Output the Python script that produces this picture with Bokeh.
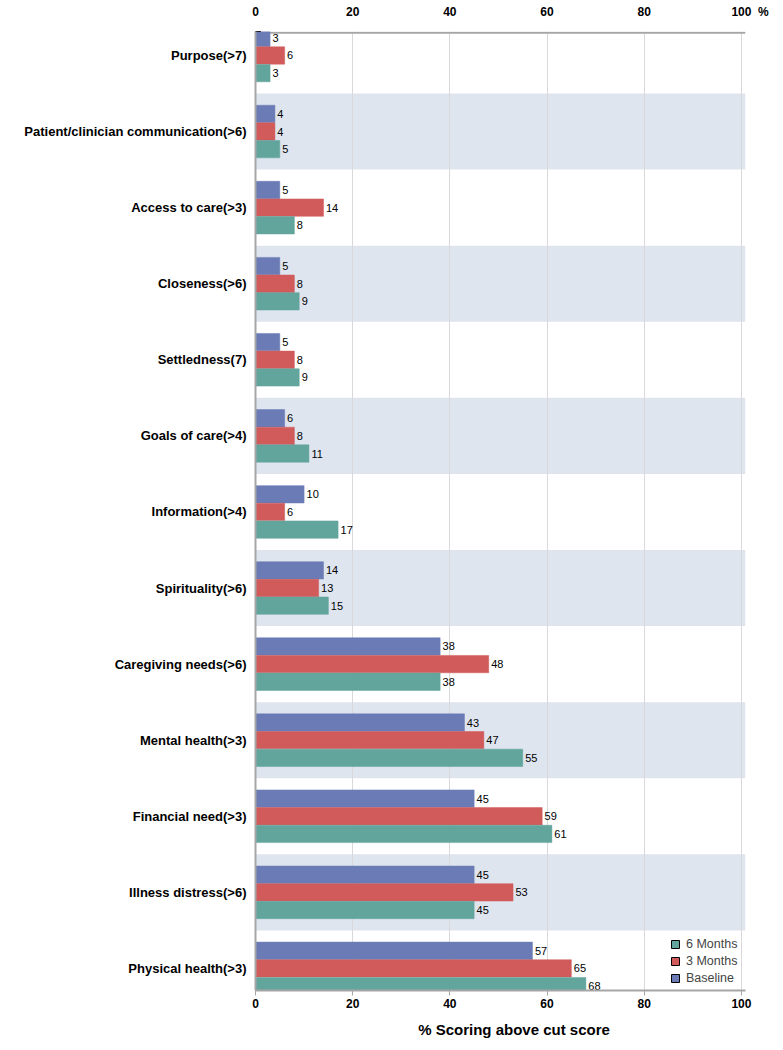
from bokeh.plotting import figure
from bokeh.models import Range1d, LinearAxis, FixedTicker, ColumnDataSource, Legend, LegendItem
from bokeh.core.properties import value
from bokeh.embed import file_html
from bokeh.resources import INLINE

categories = [
    "Purpose(>7)",
    "Patient/clinician communication(>6)",
    "Access to care(>3)",
    "Closeness(>6)",
    "Settledness(7)",
    "Goals of care(>4)",
    "Information(>4)",
    "Spirituality(>6)",
    "Caregiving needs(>6)",
    "Mental health(>3)",
    "Financial need(>3)",
    "Illness distress(>6)",
    "Physical health(>3)",
]
baseline = [3, 4, 5, 5, 5, 6, 10, 14, 38, 43, 45, 45, 57]
months3 = [6, 4, 14, 8, 8, 8, 6, 13, 48, 47, 59, 53, 65]
months6 = [3, 5, 8, 9, 9, 11, 17, 15, 38, 55, 61, 45, 68]
x_ticks = [0, 20, 40, 60, 80, 100]
pct_tick = 104.5

C_BASE = "#6b7bb6"
C_3M = "#d15b5b"
C_6M = "#62a59d"
BAND = "#dfe5ef"
AXC = "#a6a6a6"
FONT = "Liberation Sans"
XMAX = 100.8

n = len(categories)
pos = list(range(n))

p = figure(width=775, height=1042,
           x_range=Range1d(0, 106.4), y_range=Range1d(n - 1 + 0.29, -0.315),
           output_backend="svg", toolbar_location=None,
           min_border_left=255, min_border_right=3, min_border_top=31, min_border_bottom=52)
p.outline_line_color = None
p.background_fill_color = "white"

# bands
band_y = [i for i in pos if i % 2 == 1]
p.hbar(y=band_y, left=0, right=XMAX, height=1.0, fill_color=BAND, line_color=None, level="image")

# top axis line
p.segment(x0=[0], x1=[XMAX], y0=[-0.30], y1=[-0.30], line_color=AXC, line_width=2)

off = 0.232
h = 0.228
series = [(baseline, -off, C_BASE), (months3, 0.0, C_3M), (months6, off, C_6M)]
for vals, o, col in series:
    ys = [i + o for i in pos]
    src = ColumnDataSource(dict(y=ys, v=vals, t=[str(v) for v in vals], tx=[v + 0.5 for v in vals]))
    p.hbar(y="y", right="v", left=0, height=h, source=src, fill_color=col, line_color=col, line_alpha=0.5)
    p.text(x="tx", y="y", text="t", source=src, text_font=value(FONT), text_font_size="11px",
           text_baseline="middle", text_align="left", text_color="black")

# legend via dummy renderers (outside visible range)
items = []
for lab, col in [("6 Months", C_6M), ("3 Months", C_3M), ("Baseline", C_BASE)]:
    r = p.hbar(y=[-5], right=[1], left=0, height=0.2, fill_color=col, line_color="black")
    items.append(LegendItem(label=lab, renderers=[r]))
leg = Legend(items=items, location=(415, 4), background_fill_alpha=0, border_line_color=None,
             label_text_font=FONT, label_text_font_size="12.5px",
             glyph_width=10, glyph_height=10, spacing=0, label_height=17, padding=0, margin=0,
             label_standoff=6)
p.add_layout(leg)

# grid
p.ygrid.grid_line_color = None
p.xgrid.ticker = FixedTicker(ticks=x_ticks)
p.xgrid.grid_line_color = "#d9d9d9"

# bottom axis
ax = p.xaxis[0]
ax.ticker = FixedTicker(ticks=x_ticks)
ax.bounds = (0, XMAX)
ax.axis_label = "% Scoring above cut score"
ax.axis_label_text_font = FONT
ax.axis_label_text_font_style = "bold"
ax.axis_label_text_font_size = "15px"
ax.axis_label_text_color = "black"
ax.axis_label_standoff = 10
ax.axis_line_color = AXC
ax.axis_line_width = 2
ax.major_tick_line_color = AXC
ax.major_tick_out = 5
ax.major_tick_in = 0
ax.minor_tick_line_color = None
ax.major_label_text_font = FONT
ax.major_label_text_font_style = "bold"
ax.major_label_text_font_size = "12px"
ax.major_label_text_color = "black"
ax.major_label_standoff = 3

# top axis (line drawn as segment; extra tick for the % sign)
top = LinearAxis(ticker=FixedTicker(ticks=x_ticks + [pct_tick]))
top.major_label_overrides = {pct_tick: "%"}
top.axis_line_color = None
top.major_tick_line_color = None
top.minor_tick_line_color = None
top.major_tick_out = 5
top.major_label_text_font = FONT
top.major_label_text_font_style = "bold"
top.major_label_text_font_size = "12px"
top.major_label_text_color = "black"
top.major_label_standoff = 8
p.add_layout(top, "above")

# left axis
ya = p.yaxis[0]
ya.ticker = FixedTicker(ticks=pos)
ya.major_label_overrides = {i: c for i, c in enumerate(categories)}
ya.axis_line_color = AXC
ya.axis_line_width = 2
ya.major_tick_line_color = None
ya.minor_tick_line_color = None
ya.major_label_text_font = FONT
ya.major_label_text_font_style = "bold"
ya.major_label_text_font_size = "13px"
ya.major_label_text_color = "black"
ya.major_label_standoff = 3

open("out.html", "w").write(file_html(p, INLINE))
